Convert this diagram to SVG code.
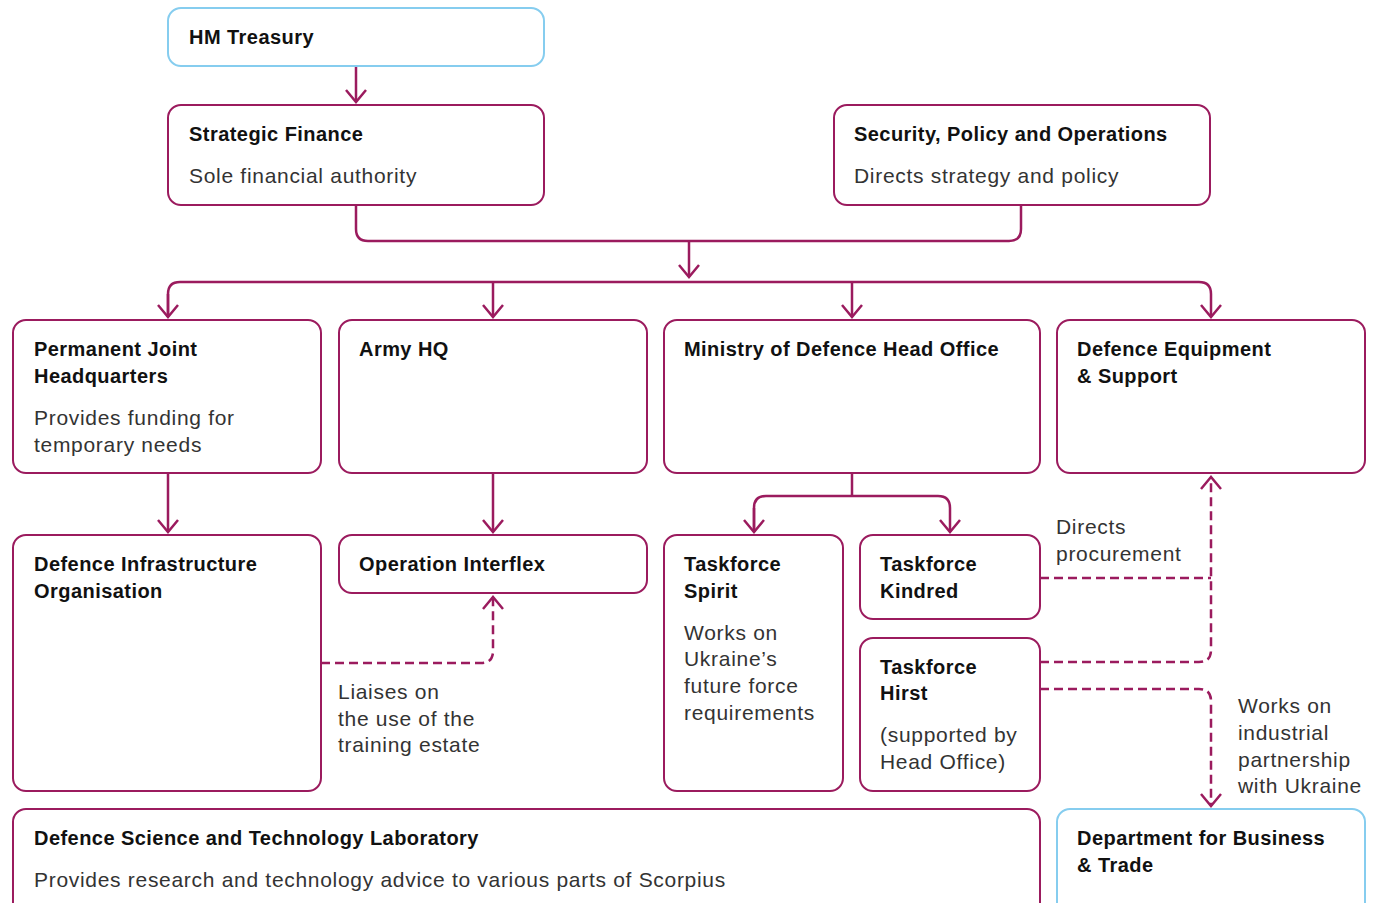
<svg xmlns="http://www.w3.org/2000/svg" width="1375" height="903" viewBox="0 0 1375 903">
<style>
.box{fill:#fff;stroke:#9b1b5e;stroke-width:2}
.ext{fill:#fff;stroke:#86cdef;stroke-width:2}
.t{font-family:"Liberation Sans",Arial,sans-serif;font-size:20px;font-weight:bold;fill:#111;letter-spacing:0.45px}
.d{font-family:"Liberation Sans",Arial,sans-serif;font-size:21px;fill:#333;letter-spacing:0.7px}
.c{fill:none;stroke:#9b1b5e;stroke-width:2.5}
.dash{stroke-dasharray:9 5}
</style>
<defs>
<marker id="arr" markerUnits="userSpaceOnUse" viewBox="-14 -12 16 24" markerWidth="16" markerHeight="24" refX="0" refY="0" orient="auto">
<path d="M-12,-10 L0,0 L-12,10" fill="none" stroke="#9b1b5e" stroke-width="2.5"/>
</marker>
</defs>
<rect width="1375" height="903" fill="#fff"/>
<g id="connectors">
<path class="c" d="M356,66 V102" marker-end="url(#arr)"/>
<path class="c" d="M356,205 V229 Q356,241 368,241 H1009 Q1021,241 1021,229 V205"/>
<path class="c" d="M689,241 V277" marker-end="url(#arr)"/>
<path class="c" d="M168,317 V294 Q168,282 180,282 H1199 Q1211,282 1211,294 V317" marker-end="url(#arr)"/>
<path class="c" d="M168,294 V317" marker-end="url(#arr)"/>
<path class="c" d="M493,282 V317" marker-end="url(#arr)"/>
<path class="c" d="M852,282 V317" marker-end="url(#arr)"/>
<path class="c" d="M168,473 V532" marker-end="url(#arr)"/>
<path class="c" d="M493,473 V532" marker-end="url(#arr)"/>
<path class="c" d="M852,473 V496"/>
<path class="c" d="M754,532 V508 Q754,496 766,496 H938 Q950,496 950,508 V532" marker-end="url(#arr)"/>
<path class="c" d="M754,508 V532" marker-end="url(#arr)"/>
<path class="c dash" d="M321,663 H481 Q493,663 493,651 V597" marker-end="url(#arr)"/>
<path class="c dash" d="M1040,578 H1211"/>
<path class="c dash" d="M1040,662 H1199 Q1211,662 1211,650 V477" marker-end="url(#arr)"/>
<path class="c dash" d="M1040,689 H1199 Q1211,689 1211,701 V806" marker-end="url(#arr)"/>
</g>
<g id="hm-treasury"><rect class="ext" x="168" y="8" width="376" height="58" rx="13"/><text class="t" x="189" y="44">HM Treasury</text></g>
<g id="strategic-finance"><rect class="box" x="168" y="105" width="376" height="100" rx="13"/><text class="t" x="189" y="141">Strategic Finance</text><text class="d" x="189" y="183">Sole financial authority</text></g>
<g id="security-policy"><rect class="box" x="834" y="105" width="376" height="100" rx="13"/><text class="t" x="854" y="141">Security, Policy and Operations</text><text class="d" x="854" y="183">Directs strategy and policy</text></g>
<g id="pjhq"><rect class="box" x="13" y="320" width="308" height="153" rx="13"/><text class="t" x="34" y="356">Permanent Joint</text><text class="t" x="34" y="383">Headquarters</text><text class="d" x="34" y="425">Provides funding for</text><text class="d" x="34" y="452">temporary needs</text></g>
<g id="army-hq"><rect class="box" x="339" y="320" width="308" height="153" rx="13"/><text class="t" x="359" y="356">Army HQ</text></g>
<g id="mod-head-office"><rect class="box" x="664" y="320" width="376" height="153" rx="13"/><text class="t" x="684" y="356">Ministry of Defence Head Office</text></g>
<g id="des"><rect class="box" x="1057" y="320" width="308" height="153" rx="13"/><text class="t" x="1077" y="356">Defence Equipment</text><text class="t" x="1077" y="383">&amp; Support</text></g>
<g id="dio"><rect class="box" x="13" y="535" width="308" height="256" rx="13"/><text class="t" x="34" y="571">Defence Infrastructure</text><text class="t" x="34" y="598">Organisation</text></g>
<g id="interflex"><rect class="box" x="339" y="535" width="308" height="58" rx="13"/><text class="t" x="359" y="571">Operation Interflex</text></g>
<g id="spirit"><rect class="box" x="664" y="535" width="179" height="256" rx="13"/><text class="t" x="684" y="571">Taskforce</text><text class="t" x="684" y="598">Spirit</text><text class="d" x="684" y="640">Works on</text><text class="d" x="684" y="666">Ukraine’s</text><text class="d" x="684" y="693">future force</text><text class="d" x="684" y="720">requirements</text></g>
<g id="kindred"><rect class="box" x="860" y="535" width="180" height="84" rx="13"/><text class="t" x="880" y="571">Taskforce</text><text class="t" x="880" y="598">Kindred</text></g>
<g id="hirst"><rect class="box" x="860" y="638" width="180" height="153" rx="13"/><text class="t" x="880" y="674">Taskforce</text><text class="t" x="880" y="700">Hirst</text><text class="d" x="880" y="742">(supported by</text><text class="d" x="880" y="769">Head Office)</text></g>
<g id="dstl"><rect class="box" x="13" y="809" width="1027" height="110" rx="13"/><text class="t" x="34" y="845">Defence Science and Technology Laboratory</text><text class="d" x="34" y="887">Provides research and technology advice to various parts of Scorpius</text></g>
<g id="dbt"><rect class="ext" x="1057" y="809" width="308" height="110" rx="13"/><text class="t" x="1077" y="845">Department for Business</text><text class="t" x="1077" y="872">&amp; Trade</text></g>
<g id="labels">
<text class="d" x="1056" y="534">Directs</text><text class="d" x="1056" y="561">procurement</text>
<text class="d" x="338" y="699">Liaises on</text><text class="d" x="338" y="726">the use of the</text><text class="d" x="338" y="752">training estate</text>
<text class="d" x="1238" y="713">Works on</text><text class="d" x="1238" y="740">industrial</text><text class="d" x="1238" y="767">partnership</text><text class="d" x="1238" y="793">with Ukraine</text>
</g>
</svg>
